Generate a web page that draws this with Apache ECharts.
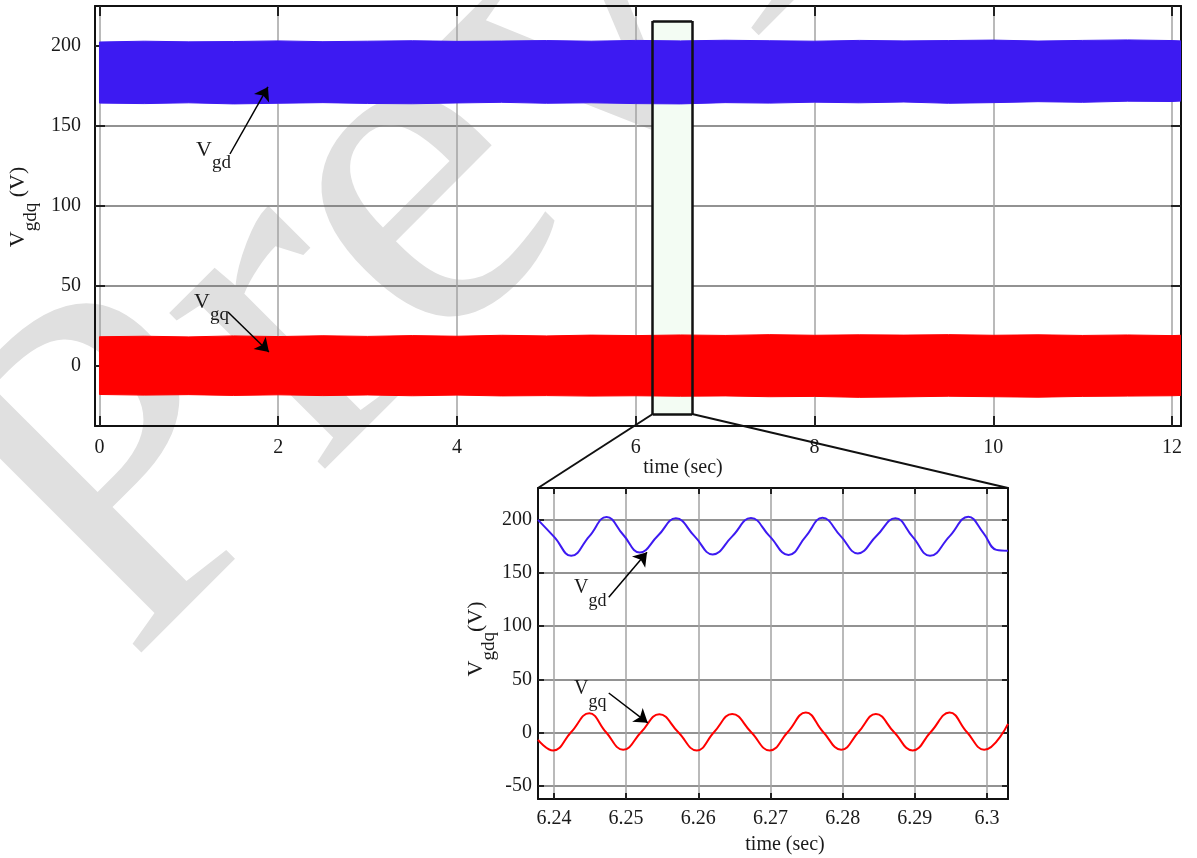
<!DOCTYPE html>
<html>
<head>
<meta charset="utf-8">
<script src="https://cdn.jsdelivr.net/npm/echarts@6/dist/echarts.min.js"></script>
<style>
  html, body { margin: 0; padding: 0; background: #fff; }
  #chart { width: 1197px; height: 858px; }
</style>
</head>
<body>
<div id="chart"></div>
<script>
const FONT = 'Liberation Serif'
const BLUE = '#3d1af2'
const RED = '#ff0000'
const INK = '#1a1a1a'

// main plot: envelope of the ripple band over the whole run (read every 0.5 s)
const mainTime = [0, 0.5, 1, 1.5, 2, 2.5, 3, 3.5, 4, 4.5, 5, 5.5, 6, 6.5, 7, 7.5, 8, 8.5, 9, 9.5, 10, 10.5, 11, 11.5, 12, 12.1]
const vgdUpper = [202.5, 203.0, 202.6, 202.8, 203.2, 202.7, 203.0, 203.3, 202.9, 203.1, 203.4, 203.0, 203.5, 203.2, 203.6, 203.3, 203.0, 203.5, 203.2, 203.4, 203.7, 203.1, 203.5, 203.8, 203.4, 203.2]
const vgdLower = [164.3, 164.0, 164.5, 163.8, 164.2, 164.6, 164.1, 163.9, 164.4, 164.8, 164.2, 164.5, 164.0, 163.8, 164.6, 164.3, 164.9, 164.5, 165.0, 164.2, 164.6, 165.2, 164.8, 165.5, 165.3, 165.6]
const vgqUpper = [18.3, 18.6, 18.2, 18.8, 18.4, 18.9, 18.5, 19.0, 18.6, 19.2, 18.8, 19.3, 19.0, 19.4, 19.1, 19.6, 19.2, 19.5, 19.3, 19.6, 19.2, 19.5, 19.1, 19.4, 19.0, 19.2]
const vgqLower = [-17.8, -18.2, -17.9, -18.4, -18.0, -18.5, -18.1, -18.6, -18.2, -18.7, -18.5, -18.8, -18.6, -18.9, -18.7, -19.2, -19.0, -19.6, -19.3, -18.9, -19.2, -19.5, -19.0, -18.8, -18.6, -18.4]
const mainXTicks = [0, 2, 4, 6, 8, 10, 12]
const mainYTicks = [0, 50, 100, 150, 200]
const mainXRange = [-0.05, 12.1]
const mainYRange = [-37.5, 225]

// highlighted window on the main plot
const boxTime = [6.19, 6.63]
const boxValue = [-30, 215.6]

// zoomed window
const zoomVgdTime = [6.2378, 6.2401, 6.2424, 6.2449, 6.2473, 6.2496, 6.2519, 6.2544, 6.2569, 6.2595, 6.2620, 6.2647, 6.2673, 6.2699, 6.2725, 6.2749, 6.2772, 6.2797, 6.2821, 6.2847, 6.2873, 6.2897, 6.2921, 6.2948, 6.2974, 6.2995, 6.3013, 6.3029]
const zoomVgd = [200, 183.5, 166.2, 184.5, 202.8, 186, 169.3, 185, 201.5, 184.5, 167.5, 184.5, 201.8, 184.5, 167, 184.5, 202, 185, 168.5, 185, 201.6, 184, 166.2, 184.5, 203, 187.6, 171.8, 171]
const zoomVgqTime = [6.2378, 6.2399, 6.2424, 6.2449, 6.2472, 6.2496, 6.2521, 6.2546, 6.2572, 6.2598, 6.2622, 6.2647, 6.2673, 6.2699, 6.2724, 6.2749, 6.2773, 6.2798, 6.2822, 6.2846, 6.2871, 6.2897, 6.2922, 6.2948, 6.2972, 6.2996, 6.3029]
const zoomVgq = [-6.8, -16.9, 0.5, 18.2, 0.5, -16.2, 0.5, 17.2, 0.5, -16.9, 0.5, 17.5, 0.5, -16.9, 0.5, 18.8, 0.5, -16.2, 0.5, 17.5, 0.5, -16.9, 0.5, 18.8, 0.5, -16.2, 8.2]
const zoomXTicks = [6.24, 6.25, 6.26, 6.27, 6.28, 6.29, 6.3]
const zoomYTicks = [-50, 0, 50, 100, 150, 200]
const zoomXRange = [6.2378, 6.3029]
const zoomYRange = [-62.5, 230]

// annotation arrows, [from, to] in data units
const mainArrows = [[[1.46, 132.5], [1.885, 174.4]], [[1.437, 33.8], [1.896, 8.8]]]
const zoomArrows = [[[6.2476, 127.3], [6.2529, 169.5]], [[6.2476, 37.2], [6.2530, 9.1]]]

function pairs(xs, ys) {
  return xs.map((x, i) => [x, ys[i]])
}

// filled ripple band between the lower and upper envelope
function bandSeries(name, upper, lower, color) {
  return {
    type: 'custom',
    name,
    xAxisIndex: 0,
    yAxisIndex: 0,
    silent: true,
    clip: true,
    z: 3,
    encode: { x: 0, y: [1, 2] },
    data: mainTime.map((t, i) => [t, lower[i], upper[i]]),
    renderItem(params, api) {
      if (params.dataIndex !== 0) {
        return null
      }
      const top = mainTime.map((t, i) => api.coord([t, upper[i]]))
      const bottom = mainTime.map((t, i) => api.coord([t, lower[i]])).reverse()
      return {
        type: 'polygon',
        shape: { points: top.concat(bottom) },
        style: { fill: color, stroke: color, lineWidth: 1 }
      }
    }
  }
}

function frameAxis(gridIndex, position, range, ticks, tickLen, extra) {
  return {
    type: 'value',
    gridIndex,
    position,
    min: range[0],
    max: range[1],
    axisLine: { show: true, onZero: false, lineStyle: { color: '#111', width: 2 } },
    axisTick: { show: true, inside: true, length: tickLen, customValues: ticks, lineStyle: { color: '#222', width: 2 } },
    axisLabel: { show: false },
    splitLine: { show: false },
    ...extra
  }
}

function labelAxis(gridIndex, position, range, ticks, tickLen, margin, gridColor) {
  return frameAxis(gridIndex, position, range, ticks, tickLen, {
    axisLabel: {
      show: true,
      customValues: ticks,
      margin,
      color: INK,
      fontFamily: FONT,
      fontSize: 20,
      formatter: (v) => String(v)
    },
    splitLine: { show: true, lineStyle: { color: gridColor, width: 1.5 } }
  })
}

function arrowLines(list) {
  return list.map(([from, to]) => [
    { coord: from, symbol: 'none' },
    { coord: to, symbol: 'arrow', symbolSize: 13 }
  ])
}

function subLabel(id, x, y, main, sub, big, small) {
  return {
    id,
    type: 'text',
    x,
    y,
    z: 50,
    silent: true,
    style: {
      text: '{v|' + main + '}{s|' + sub + '}',
      rich: {
        v: { fontFamily: FONT, fontSize: big, lineHeight: big, verticalAlign: 'top', fill: INK },
        s: { fontFamily: FONT, fontSize: small, lineHeight: big + 12, verticalAlign: 'bottom', fill: INK }
      }
    }
  }
}

function yName(id, x, y, tail) {
  return {
    id,
    type: 'text',
    x,
    y,
    rotation: Math.PI / 2,
    z: 50,
    silent: true,
    style: {
      text: '{v|V}{s|gdq}{v|' + tail + '}',
      align: 'center',
      verticalAlign: 'middle',
      rich: {
        v: { fontFamily: FONT, fontSize: 22, lineHeight: 22, verticalAlign: 'top', fill: INK },
        s: { fontFamily: FONT, fontSize: 19, lineHeight: 33, verticalAlign: 'bottom', fill: INK }
      }
    }
  }
}

function plainText(id, x, y, text) {
  return {
    id,
    type: 'text',
    x,
    y,
    z: 50,
    silent: true,
    style: { text, fontFamily: FONT, fontSize: 20, fill: INK, align: 'center', verticalAlign: 'middle' }
  }
}

const chart = echarts.init(document.getElementById('chart'))

const option = {
  animation: false,
  backgroundColor: '#fff',
  grid: [
    { left: 95, top: 6, right: 16, bottom: 432 },
    { left: 538, top: 488, right: 189, bottom: 59 }
  ],
  xAxis: [
    labelAxis(0, 'bottom', mainXRange, mainXTicks, 10, 12, '#a3a3a3'),
    frameAxis(0, 'top', mainXRange, mainXTicks, 10),
    labelAxis(1, 'bottom', zoomXRange, zoomXTicks, 6, 10, '#a3a3a3'),
    frameAxis(1, 'top', zoomXRange, zoomXTicks, 6)
  ],
  yAxis: [
    labelAxis(0, 'left', mainYRange, mainYTicks, 10, 14, '#6e6e6e'),
    frameAxis(0, 'right', mainYRange, mainYTicks, 10),
    labelAxis(1, 'left', zoomYRange, zoomYTicks, 6, 6, '#6e6e6e'),
    frameAxis(1, 'right', zoomYRange, zoomYTicks, 6)
  ],
  series: [
    bandSeries('vgd', vgdUpper, vgdLower, BLUE),
    bandSeries('vgq', vgqUpper, vgqLower, RED),
    {
      type: 'line',
      name: 'box-fill',
      xAxisIndex: 0,
      yAxisIndex: 0,
      data: [],
      z: 1,
      markArea: {
        silent: true,
        z: 1,
        itemStyle: { color: '#f3fcf3', borderWidth: 0 },
        data: [[{ coord: [boxTime[0], boxValue[1]] }, { coord: [boxTime[1], boxValue[0]] }]]
      }
    },
    {
      type: 'line',
      name: 'box-edge',
      xAxisIndex: 0,
      yAxisIndex: 0,
      data: [],
      z: 10,
      markLine: {
        silent: true,
        z: 10,
        symbol: 'none',
        label: { show: false },
        lineStyle: { color: '#111', width: 2.5, type: 'solid' },
        data: [
          [{ coord: [boxTime[0], boxValue[0]] }, { coord: [boxTime[0], boxValue[1]] }],
          [{ coord: [boxTime[1], boxValue[0]] }, { coord: [boxTime[1], boxValue[1]] }],
          [{ coord: [boxTime[0], boxValue[1]] }, { coord: [boxTime[1], boxValue[1]] }],
          [{ coord: [boxTime[0], boxValue[0]] }, { coord: [boxTime[1], boxValue[0]] }]
        ]
      }
    },
    {
      type: 'line',
      name: 'main-arrows',
      xAxisIndex: 0,
      yAxisIndex: 0,
      data: [],
      z: 12,
      markLine: {
        silent: true,
        z: 12,
        label: { show: false },
        lineStyle: { color: '#000', width: 1.5, type: 'solid' },
        data: arrowLines(mainArrows)
      }
    },
    {
      type: 'line',
      name: 'zoom-vgd',
      xAxisIndex: 2,
      yAxisIndex: 2,
      smooth: 0.45,
      showSymbol: false,
      silent: true,
      lineStyle: { color: BLUE, width: 2 },
      data: pairs(zoomVgdTime, zoomVgd),
      z: 3
    },
    {
      type: 'line',
      name: 'zoom-vgq',
      xAxisIndex: 2,
      yAxisIndex: 2,
      smooth: 0.45,
      showSymbol: false,
      silent: true,
      lineStyle: { color: RED, width: 2 },
      data: pairs(zoomVgqTime, zoomVgq),
      z: 3,
      markLine: {
        silent: true,
        z: 12,
        label: { show: false },
        lineStyle: { color: '#000', width: 1.5, type: 'solid' },
        data: arrowLines(zoomArrows)
      }
    }
  ],
  graphic: [
    {
      id: 'watermark',
      type: 'text',
      x: 210,
      y: 745,
      rotation: Math.PI / 4,
      z: -10,
      silent: true,
      style: { text: 'Preview', fontFamily: FONT, fontSize: 480, fill: '#e0e0e0', verticalAlign: 'bottom' }
    },
    plainText('main-xname', 683, 468, 'time (sec)'),
    plainText('zoom-xname', 785, 845, 'time (sec)'),
    yName('main-yname', 24, 207, ' (V)'),
    yName('zoom-yname', 482, 639, '(V)'),
    subLabel('main-vgd', 196, 139, 'V', 'gd', 22, 19),
    subLabel('main-vgq', 194, 291, 'V', 'gq', 22, 19),
    subLabel('zoom-vgd', 574, 578, 'V', 'gd', 20, 18),
    subLabel('zoom-vgq', 574, 679, 'V', 'gq', 20, 18)
  ]
}

chart.setOption(option)

// lines tying the highlighted window to the zoomed plot
const boxLeft = chart.convertToPixel({ gridIndex: 0 }, [boxTime[0], boxValue[0]])
const boxRight = chart.convertToPixel({ gridIndex: 0 }, [boxTime[1], boxValue[0]])
const zoomLeft = chart.convertToPixel({ gridIndex: 1 }, [zoomXRange[0], zoomYRange[1]])
const zoomRight = chart.convertToPixel({ gridIndex: 1 }, [zoomXRange[1], zoomYRange[1]])

chart.setOption({
  graphic: [
    {
      id: 'link-left',
      type: 'line',
      z: 40,
      silent: true,
      shape: { x1: boxLeft[0], y1: boxLeft[1], x2: zoomLeft[0], y2: zoomLeft[1] },
      style: { stroke: '#111', lineWidth: 2 }
    },
    {
      id: 'link-right',
      type: 'line',
      z: 40,
      silent: true,
      shape: { x1: boxRight[0], y1: boxRight[1], x2: zoomRight[0], y2: zoomRight[1] },
      style: { stroke: '#111', lineWidth: 2 }
    }
  ]
})
</script>
</body>
</html>
